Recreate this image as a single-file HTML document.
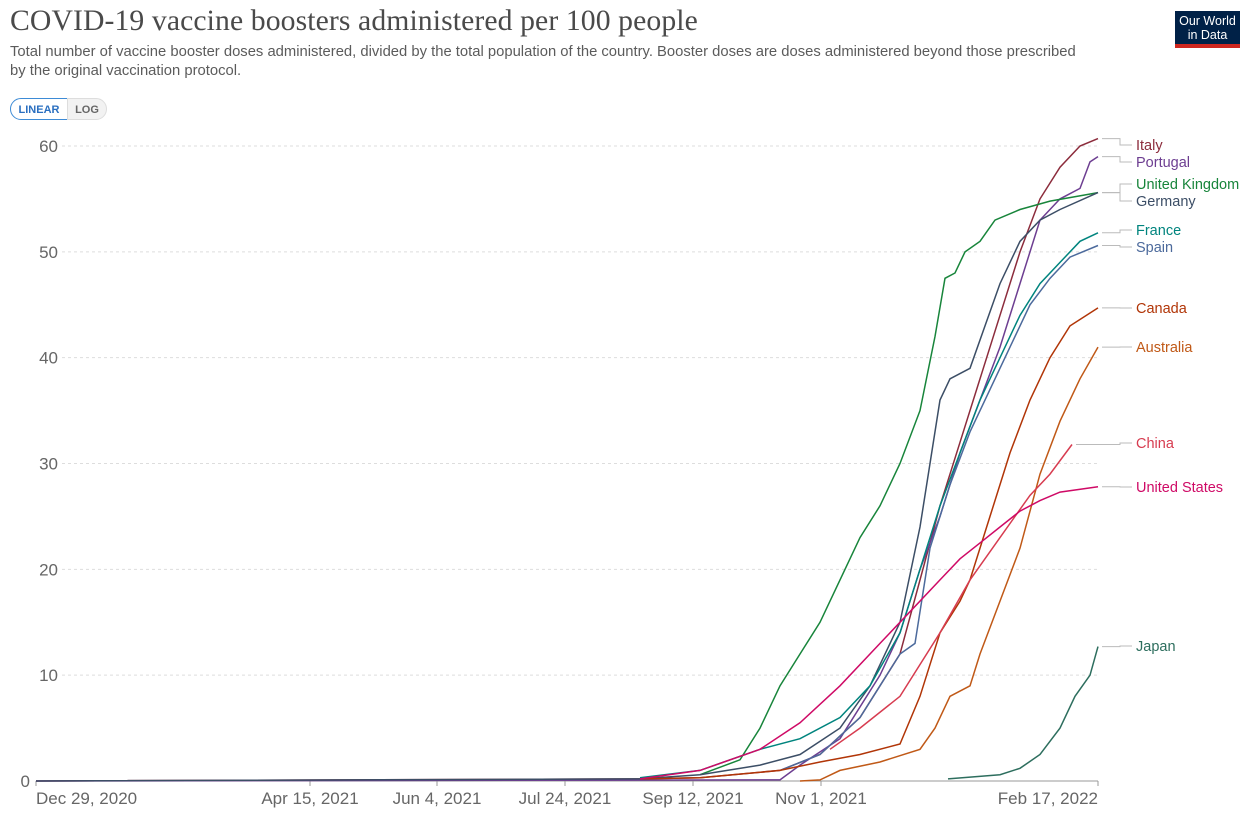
<!DOCTYPE html>
<html><head><meta charset="utf-8"><style>
body{margin:0;background:#fff;width:1248px;height:814px;overflow:hidden;font-family:"Liberation Sans",sans-serif;}
.t{position:absolute;left:10px;top:5px;font-family:"Liberation Serif",serif;font-size:29.7px;color:#4a4a4a;letter-spacing:0.1px}
.s{position:absolute;left:10px;top:43px;font-size:14.8px;color:#5b5b5b;line-height:19px;width:1080px}
.logo{position:absolute;left:1175px;top:11px;width:65px;height:37px;background:#002147;color:#fff;font-size:12.5px;line-height:14px;text-align:center;padding-top:3px;box-sizing:border-box;border-bottom:4px solid #ce261e}
.btn{position:absolute;top:98px;height:22px;font-size:11px;font-weight:bold;line-height:22px;text-align:center;box-sizing:border-box}
</style></head><body>
<div class="t">COVID-19 vaccine boosters administered per 100 people</div>
<div class="s">Total number of vaccine booster doses administered, divided by the total population of the country. Booster doses are doses administered beyond those prescribed by the original vaccination protocol.</div>
<div class="logo">Our World<br>in Data</div>
<div class="btn" style="left:10px;width:58px;border:1px solid #3d8bd6;border-radius:11px 0 0 11px;color:#2a6fc0;">LINEAR</div>
<div class="btn" style="left:67px;width:40px;border:1px solid #ddd;border-radius:0 11px 11px 0;background:#f2f2f2;color:#666;">LOG</div>
<svg id="c" width="1248" height="814" style="position:absolute;left:0;top:0"></svg>
<script>
const svg=document.getElementById('c');let h='';
const Y=v=>781-v*10.583;
for(let v=10;v<=60;v+=10){h+=`<line x1="62" x2="1098" y1="${Y(v)}" y2="${Y(v)}" stroke="#ddd" stroke-dasharray="3,3"/>`;h+=`<text x="58" y="${Y(v)+6}" text-anchor="end" font-size="17" fill="#666">${v}</text>`;}
h+=`<text x="30" y="787" text-anchor="end" font-size="17" fill="#666">0</text>`;
h+=`<line x1="36" x2="1098" y1="781" y2="781" stroke="#999"/>`;
const tx=[[36,'Dec 29, 2020','start'],[310,'Apr 15, 2021','middle'],[437,'Jun 4, 2021','middle'],[565,'Jul 24, 2021','middle'],[693,'Sep 12, 2021','middle'],[821,'Nov 1, 2021','middle'],[1098,'Feb 17, 2022','end']];
for(const[x,l,a]of tx){h+=`<line x1="${x}" x2="${x}" y1="781" y2="786" stroke="#999"/><text x="${x}" y="804" text-anchor="${a}" font-size="17" fill="#666">${l}</text>`;}
const S=[
['Italy','#8c2c3c',145,[[36,0],[640,0.2],[700,0.3],[780,1],[820,2.5],[860,6],[900,12],[920,19],[940,26],[960,32],[980,38],[1000,44],[1020,50],[1040,55],[1060,58],[1080,60],[1098,60.7]]],
['Portugal','#6d3e91',162,[[36,0],[780,0.1],[800,1.5],[840,4],[880,10],[900,14],[920,20],[940,25],[960,31],[980,36],[1000,41],[1020,47],[1040,53],[1060,55],[1080,56],[1090,58.5],[1098,59]]],
['United Kingdom','#18853b',184,[[700,0.6],[740,2],[760,5],[780,9],[800,12],[820,15],[840,19],[860,23],[880,26],[900,30],[920,35],[935,42],[945,47.5],[955,48],[965,50],[980,51],[995,53],[1020,54],[1050,54.8],[1098,55.6]]],
['Germany','#3c4e66',201,[[36,0],[640,0.2],[700,0.6],[760,1.5],[800,2.5],[840,5],[870,9],[900,15],[920,24],[930,30],[940,36],[950,38],[970,39],[985,43],[1000,47],[1020,51],[1040,53],[1060,54],[1098,55.6]]],
['France','#00847e',230,[[640,0.3],[700,1],[760,3],[800,4],[840,6],[870,9],[900,14],[920,20],[940,26],[960,31],[980,36],[1000,40],[1020,44],[1040,47],[1060,49],[1080,51],[1098,51.8]]],
['Spain','#4c6a9c',247,[[780,1],[820,2.5],[860,6],[880,9],[900,12],[915,13],[930,22],[950,28],[970,33],[990,37],[1010,41],[1030,45],[1050,47.5],[1070,49.5],[1098,50.6]]],
['Canada','#b13507',308,[[640,0.2],[700,0.3],[780,1],[820,1.8],[860,2.5],[900,3.5],[920,8],[940,14],[960,17],[970,19],[990,25],[1010,31],[1030,36],[1050,40],[1070,43],[1098,44.7]]],
['Australia','#c05917',347,[[800,0],[820,0.1],[840,1],[880,1.8],[920,3],[935,5],[950,8],[970,9],[980,12],[1000,17],[1020,22],[1040,29],[1060,34],[1080,38],[1098,41]]],
['China','#d73c50',443,[[830,3],[860,5],[900,8],[940,14],[970,19],[1000,23],[1030,27],[1050,29],[1072,31.8]]],
['United States','#cf0a66',487,[[640,0.2],[700,1],[760,3],[800,5.5],[840,9],[880,13],[910,16],[940,19],[960,21],[980,22.5],[1000,24],[1020,25.5],[1040,26.5],[1060,27.3],[1098,27.8]]],
['Japan','#2d6e5e',646,[[948,0.2],[1000,0.6],[1020,1.2],[1040,2.5],[1060,5],[1075,8],[1090,10],[1098,12.7]]]
];
for(const[n,c,ly,p]of S){
 h+=`<polyline fill="none" stroke="${c}" stroke-width="1.5" points="${p.map(q=>q[0]+','+Y(q[1]).toFixed(1)).join(' ')}"/>`;
 const last=p[p.length-1],yy=Y(last[1]);
 h+=`<polyline fill="none" stroke="#bbb" points="${last[0]+4},${yy.toFixed(1)} 1120,${yy.toFixed(1)} 1120,${ly} 1132,${ly}"/>`;
 h+=`<text x="1136" y="${ly+5}" font-size="14.5" fill="${c}">${n}</text>`;
}
svg.innerHTML=h;
</script>
</body></html>
